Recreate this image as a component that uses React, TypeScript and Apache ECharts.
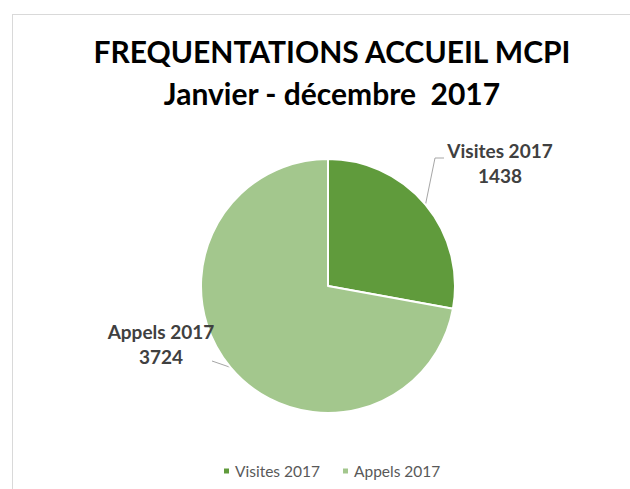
import React, { useEffect, useRef } from "react";
import * as echarts from "echarts";

const categories = ["Visites 2017", "Appels 2017"];
const values = [1438, 3724];
const colors = ["#609b3c", "#a3c78d"];
const titleLines = ["FREQUENTATIONS ACCUEIL MCPI", "Janvier - décembre  2017"];

export default function App() {
  const ref = useRef<HTMLDivElement>(null);
  useEffect(() => {
    if (!ref.current) return;
    const chart = echarts.init(ref.current, undefined, { renderer: "svg" });
    chart.setOption({
      animation: false,
      backgroundColor: "#ffffff",
      title: {
        text: titleLines.join("\n"),
        left: 327,
        textAlign: "center",
        top: 25,
        textStyle: {
          fontFamily: "Lato",
          fontWeight: "bold",
          fontSize: 30,
          lineHeight: 42,
          color: "#000000",
        },
      },
      legend: {
        bottom: 5,
        left: 217,
        icon: "rect",
        itemWidth: 7,
        itemHeight: 7,
        itemGap: 21,
        textStyle: { fontFamily: "Lato", fontSize: 15.5, color: "#595959" },
        data: categories,
      },
      graphic: [
        { type: "line", shape: { x1: 12, y1: 14.5, x2: 630, y2: 14.5 }, style: { stroke: "#d9d9d9", lineWidth: 1 } },
        { type: "line", shape: { x1: 12.5, y1: 14, x2: 12.5, y2: 489 }, style: { stroke: "#d9d9d9", lineWidth: 1 } },
      ],
      series: [
        {
          type: "pie",
          center: [328, 286],
          radius: 127,
          startAngle: 90,
          clockwise: true,
          itemStyle: { borderColor: "#ffffff", borderWidth: 2 },
          label: {
            show: true,
            position: "outside",
            formatter: "{b}\n{c}",
            fontFamily: "Lato",
            fontWeight: "bold",
            fontSize: 19,
            lineHeight: 25,
            color: "#404040",
            align: "center",
          },
          labelLine: { show: true, lineStyle: { color: "#a6a6a6", width: 1 } },
          labelLayout: (params: any) => {
            const p0 = params.labelLinePoints ? params.labelLinePoints[0] : null;
            if (params.dataIndex === 0) {
              return {
                x: 500,
                y: 163,
                align: "center",
                verticalAlign: "middle",
                labelLinePoints: p0 ? [p0, [435, 158], [444, 158]] : undefined,
              };
            }
            return {
              x: 161,
              y: 344,
              align: "center",
              verticalAlign: "middle",
              labelLinePoints: p0 ? [p0, [212, 361], [212, 361]] : undefined,
            };
          },
          data: categories.map((name, i) => ({
            name,
            value: values[i],
            itemStyle: { color: colors[i] },
          })),
        },
      ],
    });
    return () => chart.dispose();
  }, []);
  return (
    <div
      ref={ref}
      style={{ position: "fixed", left: 0, top: 0, width: 630, height: 489 }}
    />
  );
}
